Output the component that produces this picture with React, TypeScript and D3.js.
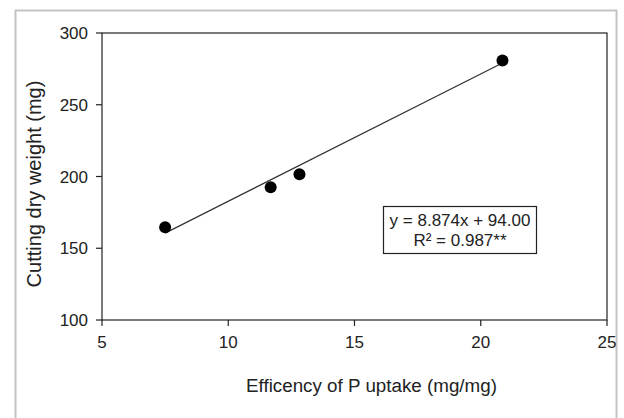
import React from "react";
import * as d3 from "d3";

const efficiency = [7.5, 11.68, 12.82, 20.86];
const dryWeight = [164.6, 192.5, 201.6, 280.8];
const xTicks = [5, 10, 15, 20, 25];
const yTicks = [100, 150, 200, 250, 300];
const slope = 8.874;
const intercept = 94.0;
const equationLabel = "y = 8.874x + 94.00";
const r2Label = "R² = 0.987**";
const xTitle = "Efficency of P uptake (mg/mg)";
const yTitle = "Cutting dry weight (mg)";

const W = 624;
const H = 418;
const left = 102;
const right = 607;
const top = 33;
const bottom = 320;
const font = "Arial, 'Liberation Sans', sans-serif";
const fs = 17;

export default function App() {
  const x = d3.scaleLinear().domain([5, 25]).range([left, right]);
  const y = d3.scaleLinear().domain([100, 300]).range([bottom, top]);
  const xMin = d3.min(efficiency)!;
  const xMax = d3.max(efficiency)!;
  const line = d3
    .line<number>()
    .x((d) => x(d))
    .y((d) => y(slope * d + intercept));

  return (
    <svg
      width={W}
      height={H}
      style={{ position: "absolute", left: 0, top: 0, background: "#fff" }}
      fontFamily={font}
    >
      <rect x={0} y={0} width={W} height={H} fill="#fff" />
      <rect x={15.5} y={10.5} width={601} height={420} fill="none" stroke="#c4c4c4" strokeWidth={2} />
      <rect x={left} y={top} width={right - left} height={bottom - top} fill="none" stroke="#222" strokeWidth={1.2} />
      {yTicks.map((t) => (
        <g key={"y" + t}>
          <line x1={left - 6} x2={left} y1={y(t)} y2={y(t)} stroke="#222" strokeWidth={1.2} />
          <text x={left - 14} y={y(t)} dy="0.36em" textAnchor="end" fontSize={fs} fill="#222">
            {t}
          </text>
        </g>
      ))}
      {xTicks.map((t) => (
        <g key={"x" + t}>
          <line x1={x(t)} x2={x(t)} y1={bottom} y2={bottom + 6} stroke="#222" strokeWidth={1.2} />
          <text x={x(t)} y={bottom + 28} textAnchor="middle" fontSize={fs} fill="#222">
            {t}
          </text>
        </g>
      ))}
      <path d={line([xMin, xMax]) || ""} fill="none" stroke="#333" strokeWidth={1.2} />
      {efficiency.map((v, i) => (
        <circle key={i} cx={x(v)} cy={y(dryWeight[i])} r={6} fill="#000" />
      ))}
      <rect x={383.5} y={206.5} width={153} height={47} fill="#fff" stroke="#222" strokeWidth={1.2} />
      <text x={460} y={226} textAnchor="middle" fontSize={fs} fill="#222">
        {equationLabel}
      </text>
      <text x={460} y={246} textAnchor="middle" fontSize={fs} fill="#222">
        {r2Label}
      </text>
      <text x={371.5} y={392} textAnchor="middle" fontSize={18.8} fill="#222">
        {xTitle}
      </text>
      <text
        transform={`translate(41, 184) rotate(-90)`}
        textAnchor="middle"
        fontSize={20}
        fill="#222"
      >
        {yTitle}
      </text>
    </svg>
  );
}
